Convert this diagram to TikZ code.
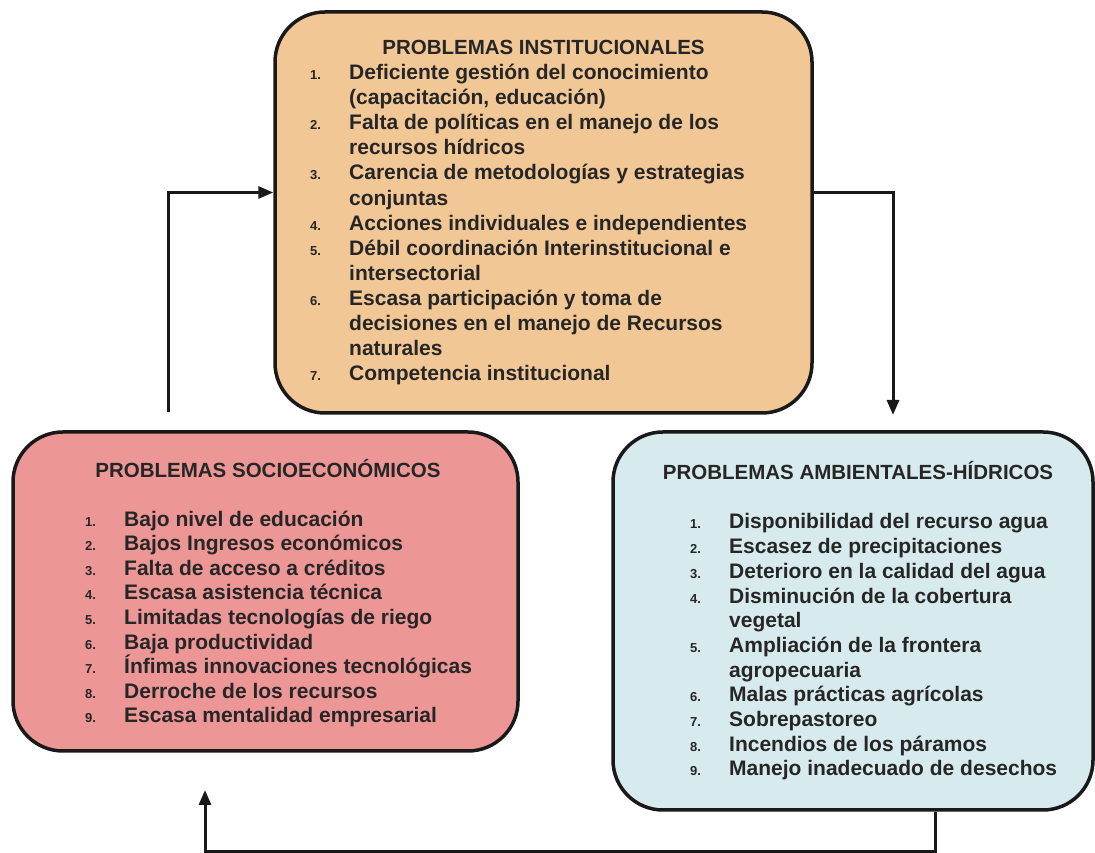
\documentclass[tikz,border=0pt]{standalone}
\usepackage{fontspec}
\setmainfont{Liberation Sans}
\usetikzlibrary{arrows.meta}
\definecolor{instfill}{RGB}{242,199,150}
\definecolor{sociofill}{RGB}{237,150,150}
\definecolor{ambfill}{RGB}{215,234,238}
\definecolor{textgray}{RGB}{38,38,38}
\newcommand{\itemnum}[1]{\makebox[39pt][l]{\fontsize{13}{13}\selectfont #1}}
\newcommand{\itemgap}{\hspace*{39pt}}

\begin{document}
\begin{tikzpicture}[x=1pt, y=1pt]
    \tikzstyle{panel} = [rectangle, draw=black!90, line width=3.5pt, rounded corners=50pt]
    \tikzstyle{heading} = [anchor=base, inner sep=0pt, text=textgray,
        font=\bfseries\fontsize{20.5}{24}\selectfont]
    \tikzstyle{itemlist} = [anchor=north west, inner sep=0pt, align=left, text=textgray]
    \tikzstyle{flowarrow} = [line width=3pt, -{Triangle[length=15pt,width=12pt]}, color=black!90]

    \useasboundingbox (0,0) rectangle (1095,853);

    % the three boxes
    \node [panel, fill=instfill, minimum width=537pt, minimum height=401pt] (inst) at (543.5,640.5) {};
    \node [panel, fill=sociofill, minimum width=505pt, minimum height=319pt] (socio) at (265.5,261.5) {};
    \node [panel, fill=ambfill, minimum width=480pt, minimum height=378pt] (amb) at (853,232) {};

    % titles
    \node [heading] (insttitle) at (543.5,798.5) {PROBLEMAS INSTITUCIONALES};
    \node [heading] (sociotitle) at (268,375.5) {PROBLEMAS SOCIOECON\'OMICOS};
    \node [heading] (ambtitle) at (858,373.5) {PROBLEMAS AMBIENTALES-H\'IDRICOS};

    % lists
    \node [itemlist, font=\bfseries\fontsize{21}{25.1}\selectfont] (instlist) at (310,789) {%
        \itemnum{1.}Deficiente gestión del conocimiento\\
        \itemgap(capacitación, educación)\\
        \itemnum{2.}Falta de políticas en el manejo de los\\
        \itemgap recursos hídricos\\
        \itemnum{3.}Carencia de metodologías y estrategias\\
        \itemgap conjuntas\\
        \itemnum{4.}Acciones individuales e independientes\\
        \itemnum{5.}Débil coordinación Interinstitucional e\\
        \itemgap intersectorial\\
        \itemnum{6.}Escasa participación y toma de\\
        \itemgap decisiones en el manejo de Recursos\\
        \itemgap naturales\\
        \itemnum{7.}Competencia institucional};
    \node [itemlist, font=\bfseries\fontsize{21}{24.6}\selectfont] (sociolist) at (85,342.5) {%
        \itemnum{1.}Bajo nivel de educación\\
        \itemnum{2.}Bajos Ingresos económicos\\
        \itemnum{3.}Falta de acceso a créditos\\
        \itemnum{4.}Escasa asistencia técnica\\
        \itemnum{5.}Limitadas tecnologías de riego\\
        \itemnum{6.}Baja productividad\\
        \itemnum{7.}Ínfimas innovaciones tecnológicas\\
        \itemnum{8.}Derroche de los recursos\\
        \itemnum{9.}Escasa mentalidad empresarial};
    \node [itemlist, font=\bfseries\fontsize{21}{24.7}\selectfont] (amblist) at (690,339.5) {%
        \itemnum{1.}Disponibilidad del recurso agua\\
        \itemnum{2.}Escasez de precipitaciones\\
        \itemnum{3.}Deterioro en la calidad del agua\\
        \itemnum{4.}Disminución de la cobertura\\
        \itemgap vegetal\\
        \itemnum{5.}Ampliación de la frontera\\
        \itemgap agropecuaria\\
        \itemnum{6.}Malas prácticas agrícolas\\
        \itemnum{7.}Sobrepastoreo\\
        \itemnum{8.}Incendios de los páramos\\
        \itemnum{9.}Manejo inadecuado de desechos};

    % cycle of arrows
    \coordinate (socioout) at (168,441);
    \coordinate (ambin) at (893,438);
    \coordinate (socioin) at (205,63);
    \draw [flowarrow] (socioout) |- ([yshift=20pt]inst.west);
    \draw [flowarrow] ([yshift=20pt]inst.east) -| (ambin);
    \draw [flowarrow] ([xshift=82pt]amb.south) -- ++(0,-40) -| (socioin);
\end{tikzpicture}
\end{document}
